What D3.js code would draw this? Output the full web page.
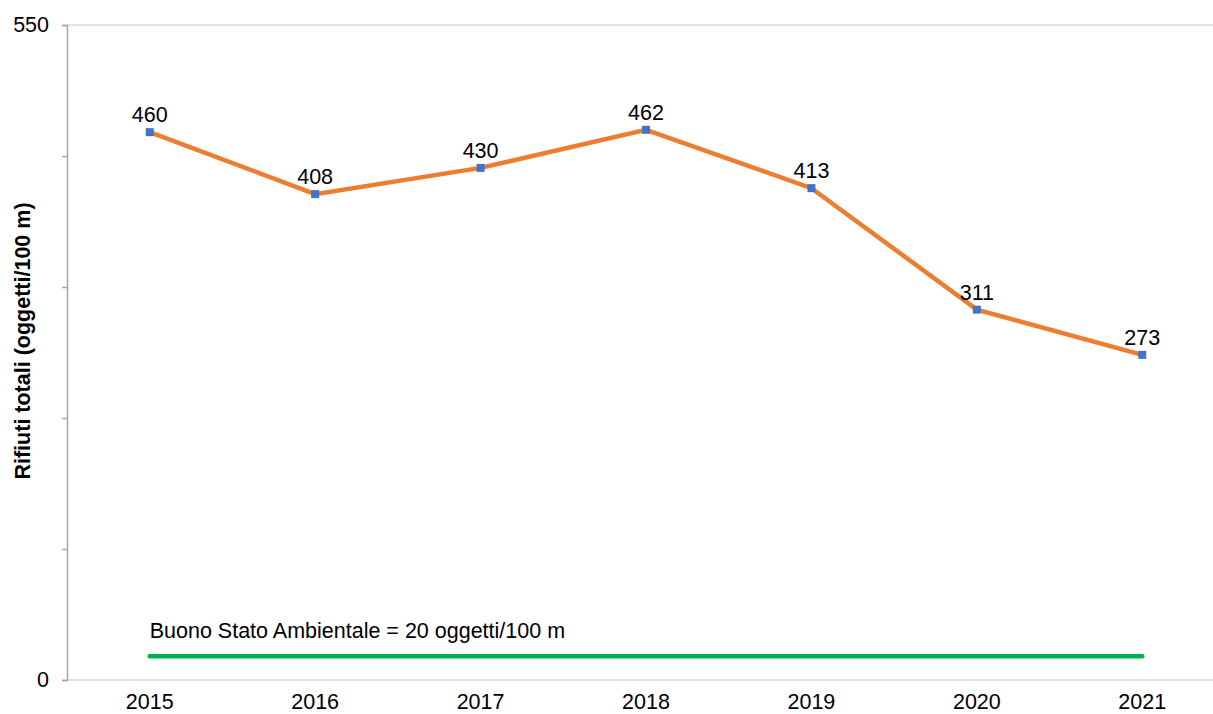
<!DOCTYPE html>
<html>
<head>
<meta charset="utf-8">
<script src="https://cdn.jsdelivr.net/npm/d3@7"></script>
<style>
  body { margin: 0; background: #fff; }
  text { font-family: "Liberation Sans", Arial, sans-serif; fill: #000; }
</style>
</head>
<body>
<svg width="1213" height="714"></svg>
<script>
// chart data
const years = ["2015", "2016", "2017", "2018", "2019", "2020", "2021"];
const rifiuti = [460, 408, 430, 462, 413, 311, 273];
const sogliaBSA = 20;
const yTicks = [0, 110, 220, 330, 440, 550];
const yTickLabels = ["0", "", "", "", "", "550"];
const sogliaLabel = "Buono Stato Ambientale = 20 oggetti/100 m";
const yTitle = "Rifiuti totali (oggetti/100 m)";

const fontSize = "21.5px";

let svg = d3.select("svg");
let plotLeft = 67, plotRight = 1225, plotTop = 25, plotBottom = 680;

let x = d3.scalePoint().domain(years).range([plotLeft, plotRight]).padding(0.5);
let y = d3.scaleLinear().domain([0, 550]).range([plotBottom, plotTop]);

// top border + baseline (light grey)
svg.append("line")
  .attr("x1", plotLeft).attr("x2", 1213)
  .attr("y1", y(550)).attr("y2", y(550))
  .attr("stroke", "#d9d9d9").attr("stroke-width", 1.5);
svg.append("line")
  .attr("x1", plotLeft).attr("x2", 1213)
  .attr("y1", y(0)).attr("y2", y(0))
  .attr("stroke", "#d9d9d9").attr("stroke-width", 1.5);

// y axis
let yAxis = svg.append("g")
  .attr("transform", "translate(" + plotLeft + ",0)")
  .call(d3.axisLeft(y).tickValues(yTicks).tickSize(5).tickPadding(13)
    .tickFormat(function(d, i) { return yTickLabels[i]; }));
yAxis.select(".domain").attr("stroke", "#a6a6a6").attr("stroke-width", 1.5);
yAxis.selectAll(".tick line").attr("stroke", "#a6a6a6").attr("stroke-width", 1.5);
yAxis.selectAll("text").style("font-size", fontSize).attr("fill", "#000");

// x labels
svg.selectAll(".xlab")
  .data(years)
  .enter()
  .append("text")
  .attr("class", "xlab")
  .attr("x", function(d) { return x(d); })
  .attr("y", 709)
  .attr("text-anchor", "middle")
  .style("font-size", fontSize)
  .text(function(d) { return d; });

// y title
svg.append("text")
  .attr("transform", "translate(30,341) rotate(-90)")
  .attr("text-anchor", "middle")
  .style("font-size", fontSize)
  .style("font-weight", "bold")
  .text(yTitle);

// green threshold line
svg.append("line")
  .attr("x1", x(years[0])).attr("x2", x(years[years.length - 1]))
  .attr("y1", y(sogliaBSA)).attr("y2", y(sogliaBSA))
  .attr("stroke", "#00b050").attr("stroke-width", 4.5)
  .attr("stroke-linecap", "round");
svg.append("text")
  .attr("x", x(years[0]))
  .attr("y", 638)
  .style("font-size", fontSize)
  .text(sogliaLabel);

// orange line
let line = d3.line()
  .x(function(d, i) { return x(years[i]); })
  .y(function(d) { return y(d); });
svg.append("path")
  .datum(rifiuti)
  .attr("d", line)
  .attr("fill", "none")
  .attr("stroke", "#ed7d31")
  .attr("stroke-width", 4.5);

// markers
svg.selectAll(".pt")
  .data(rifiuti)
  .enter()
  .append("rect")
  .attr("class", "pt")
  .attr("x", function(d, i) { return x(years[i]) - 4; })
  .attr("y", function(d) { return y(d) - 4; })
  .attr("width", 8)
  .attr("height", 8)
  .attr("fill", "#4472c4");

// value labels
svg.selectAll(".val")
  .data(rifiuti)
  .enter()
  .append("text")
  .attr("class", "val")
  .attr("x", function(d, i) { return x(years[i]); })
  .attr("y", function(d) { return y(d) - 10; })
  .attr("text-anchor", "middle")
  .style("font-size", fontSize)
  .text(function(d) { return d; });
</script>
</body>
</html>
